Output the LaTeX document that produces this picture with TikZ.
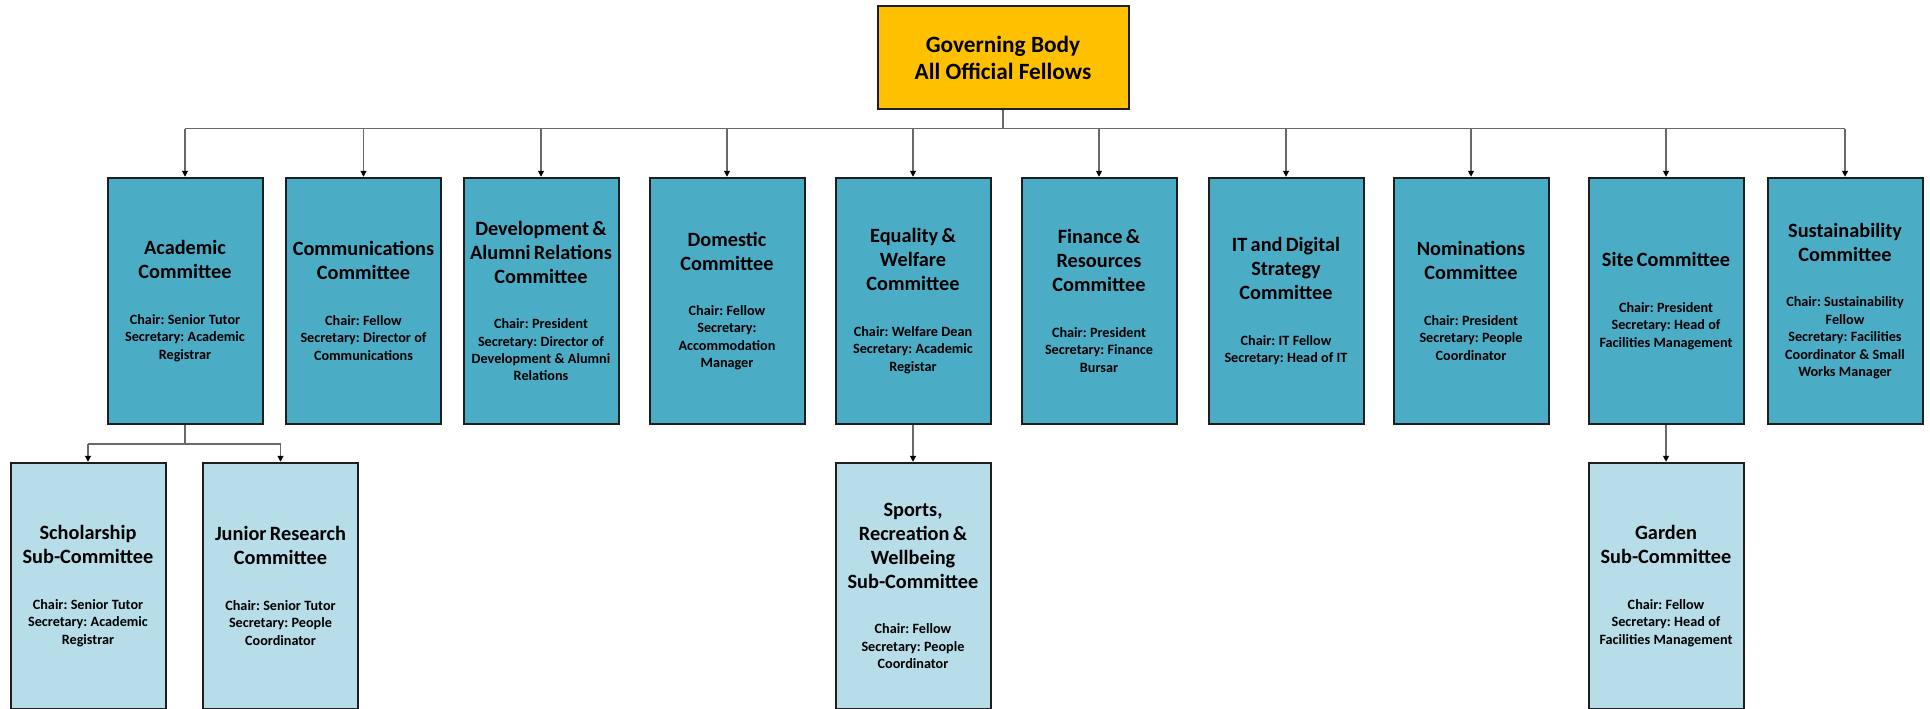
\documentclass[tikz,border=0pt]{standalone}
\usepackage{fontspec}
\setmainfont{Carlito}
\frenchspacing
\usetikzlibrary{arrows.meta}
\definecolor{govfill}{RGB}{255,192,0}
\definecolor{cmtefill}{RGB}{75,172,198}
\definecolor{subfill}{RGB}{183,221,232}
\definecolor{boxline}{RGB}{30,30,30}
\definecolor{linkgray}{RGB}{105,105,105}
\def\busy{128.5}
\def\subbusy{444}
\newcommand{\cmtetext}[2]{{\fontsize{20.3}{24}\selectfont\bfseries #1\par}%
  \vspace{28pt}{\fontsize{14.2}{17.4}\selectfont\bfseries #2\par}}

\begin{document}
\begin{tikzpicture}[x=1pt,y=-1pt,
    gov/.style={draw=boxline,line width=2pt,fill=govfill,minimum width=251pt,
      minimum height=103pt,align=center,font=\fontsize{23.3}{27}\selectfont\bfseries},
    cmte/.style={draw=boxline,line width=2pt,fill=cmtefill,minimum width=155pt,
      minimum height=246.5pt,text width=151pt,inner sep=2pt,align=center},
    subcmte/.style={cmte,fill=subfill},
    link/.style={draw=linkgray,line width=1.1pt},
    tip/.style={link,-{Triangle[length=6pt,width=6pt,color=black]}}]
  \useasboundingbox (0,0) rectangle (1930,709);
  \clip (0,0) rectangle (1930,709);

  % governing body
  \node[gov] (gov) at (1003,57.5) {Governing Body\\All Official Fellows};

  % committees
  \node[cmte] (acad) at (185,301) {\cmtetext{Academic\\Committee}
    {Chair: Senior Tutor\\Secretary: Academic\\Registrar}};
  \node[cmte] (comm) at (363.5,301) {\cmtetext{Communications\\Committee}
    {Chair: Fellow\\Secretary: Director of\\Communications}};
  \node[cmte] (devt) at (541,301) {\cmtetext{Development \&\\Alumni Relations\\Committee}
    {Chair: President\\Secretary: Director of\\Development \& Alumni\\Relations}};
  \node[cmte] (dome) at (727,301) {\cmtetext{Domestic\\Committee}
    {Chair: Fellow\\Secretary:\\Accommodation\\Manager}};
  \node[cmte] (equa) at (913,301) {\cmtetext{Equality \&\\Welfare\\Committee}
    {Chair: Welfare Dean\\Secretary: Academic\\Registar}};
  \node[cmte] (fina) at (1099,301) {\cmtetext{Finance \&\\Resources\\Committee}
    {Chair: President\\Secretary: Finance\\Bursar}};
  \node[cmte] (itds) at (1286,301) {\cmtetext{IT and Digital\\Strategy\\Committee}
    {Chair: IT Fellow\\Secretary: Head of IT}};
  \node[cmte] (nomi) at (1471,301) {\cmtetext{Nominations\\Committee}
    {Chair: President\\Secretary: People\\Coordinator}};
  \node[cmte] (site) at (1666,301) {\cmtetext{Site Committee}
    {Chair: President\\Secretary: Head of\\Facilities Management}};
  \node[cmte] (sust) at (1845,301) {\cmtetext{Sustainability\\Committee}
    {Chair: Sustainability\\Fellow\\Secretary: Facilities\\Coordinator \& Small\\Works Manager}};

  % sub-committees
  \node[subcmte] (schol) at (88,586) {\cmtetext{Scholarship\\Sub-Committee}
    {Chair: Senior Tutor\\Secretary: Academic\\Registrar}};
  \node[subcmte] (jrc) at (280.5,586) {\cmtetext{Junior Research\\Committee}
    {Chair: Senior Tutor\\Secretary: People\\Coordinator}};
  \node[subcmte] (sport) at (913,586) {\cmtetext{Sports,\\Recreation \&\\Wellbeing\\Sub-Committee}
    {Chair: Fellow\\Secretary: People\\Coordinator}};
  \node[subcmte] (gard) at (1666,586) {\cmtetext{Garden\\Sub-Committee}
    {Chair: Fellow\\Secretary: Head of\\Facilities Management}};

  % connectors
  \coordinate (bus) at (0,\busy);
  \coordinate (subbus) at (0,\subbusy);
  \draw[link] (gov.south) -- (gov.south |- bus);
  \draw[link] (acad.north |- bus) -- (sust.north |- bus);
  \foreach \n in {acad,comm,devt,dome,equa,fina,itds,nomi,site,sust}
    \draw[tip] (\n.north |- bus) -- (\n.north);
  \draw[link] (acad.south) -- (acad.south |- subbus);
  \draw[link] (schol.north |- subbus) -- (jrc.north |- subbus);
  \foreach \n in {schol,jrc}
    \draw[tip] (\n.north |- subbus) -- (\n.north);
  \draw[tip] (equa) -- (sport);
  \draw[tip] (site) -- (gard);
\end{tikzpicture}
\end{document}
